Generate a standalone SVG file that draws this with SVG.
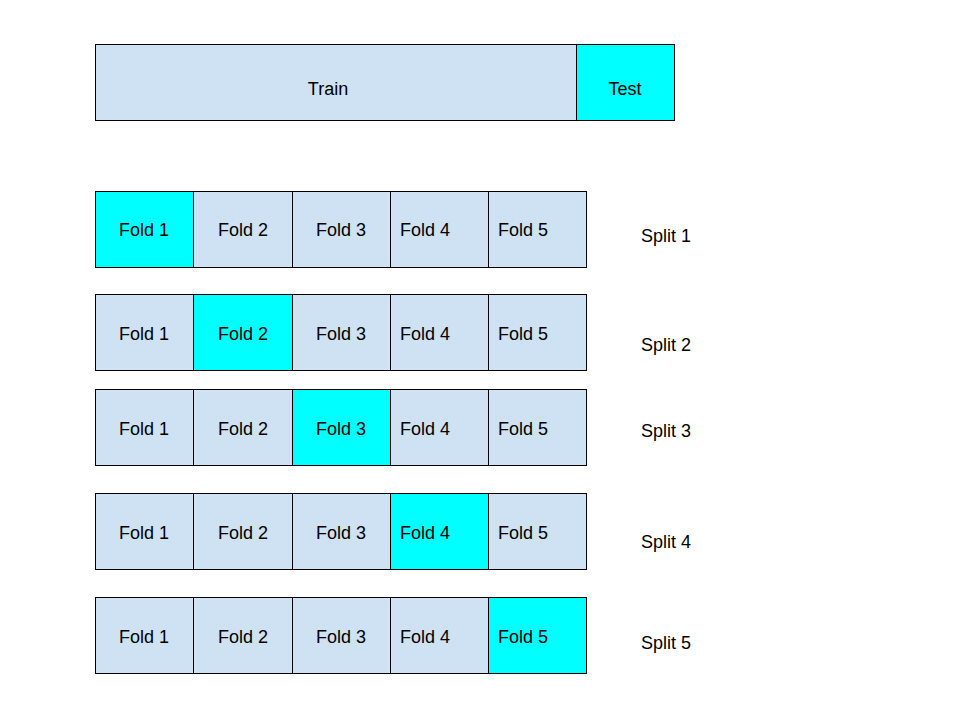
<svg xmlns="http://www.w3.org/2000/svg" width="960" height="720" viewBox="0 0 960 720">
<style>
.tr,.te{stroke:#000;stroke-width:1}
.tr{fill:#cfe2f3}
.te{fill:#00ffff}
text{font-family:"Liberation Sans",Arial,sans-serif;font-size:18px;fill:#000;dominant-baseline:central}
.c{text-anchor:middle}
</style>
<rect x="0" y="0" width="960" height="720" style="fill:#fff;stroke:none"/>
<g id="top">
<g id="train"><rect class="tr" x="95.5" y="44.5" width="481" height="76"/><text class="c" x="328" y="89">Train</text></g>
<g id="test"><rect class="te" x="576.5" y="44.5" width="98" height="76"/><text class="c" x="625" y="89">Test</text></g>
</g>
<g id="split1">
<rect class="te" x="95.5" y="191.5" width="98" height="76"/><text class="c" x="144" y="230">Fold 1</text>
<rect class="tr" x="193.5" y="191.5" width="99" height="76"/><text class="c" x="243" y="230">Fold 2</text>
<rect class="tr" x="292.5" y="191.5" width="98" height="76"/><text class="c" x="341" y="230">Fold 3</text>
<rect class="tr" x="390.5" y="191.5" width="98" height="76"/><text x="400" y="230">Fold 4</text>
<rect class="tr" x="488.5" y="191.5" width="98" height="76"/><text x="498" y="230">Fold 5</text>
<text x="641" y="236">Split 1</text>
</g>
<g id="split2">
<rect class="tr" x="95.5" y="294.5" width="98" height="76"/><text class="c" x="144" y="334">Fold 1</text>
<rect class="te" x="193.5" y="294.5" width="99" height="76"/><text class="c" x="243" y="334">Fold 2</text>
<rect class="tr" x="292.5" y="294.5" width="98" height="76"/><text class="c" x="341" y="334">Fold 3</text>
<rect class="tr" x="390.5" y="294.5" width="98" height="76"/><text x="400" y="334">Fold 4</text>
<rect class="tr" x="488.5" y="294.5" width="98" height="76"/><text x="498" y="334">Fold 5</text>
<text x="641" y="345">Split 2</text>
</g>
<g id="split3">
<rect class="tr" x="95.5" y="389.5" width="98" height="76"/><text class="c" x="144" y="429">Fold 1</text>
<rect class="tr" x="193.5" y="389.5" width="99" height="76"/><text class="c" x="243" y="429">Fold 2</text>
<rect class="te" x="292.5" y="389.5" width="98" height="76"/><text class="c" x="341" y="429">Fold 3</text>
<rect class="tr" x="390.5" y="389.5" width="98" height="76"/><text x="400" y="429">Fold 4</text>
<rect class="tr" x="488.5" y="389.5" width="98" height="76"/><text x="498" y="429">Fold 5</text>
<text x="641" y="431">Split 3</text>
</g>
<g id="split4">
<rect class="tr" x="95.5" y="493.5" width="98" height="76"/><text class="c" x="144" y="533">Fold 1</text>
<rect class="tr" x="193.5" y="493.5" width="99" height="76"/><text class="c" x="243" y="533">Fold 2</text>
<rect class="tr" x="292.5" y="493.5" width="98" height="76"/><text class="c" x="341" y="533">Fold 3</text>
<rect class="te" x="390.5" y="493.5" width="98" height="76"/><text x="400" y="533">Fold 4</text>
<rect class="tr" x="488.5" y="493.5" width="98" height="76"/><text x="498" y="533">Fold 5</text>
<text x="641" y="542">Split 4</text>
</g>
<g id="split5">
<rect class="tr" x="95.5" y="597.5" width="98" height="76"/><text class="c" x="144" y="637">Fold 1</text>
<rect class="tr" x="193.5" y="597.5" width="99" height="76"/><text class="c" x="243" y="637">Fold 2</text>
<rect class="tr" x="292.5" y="597.5" width="98" height="76"/><text class="c" x="341" y="637">Fold 3</text>
<rect class="tr" x="390.5" y="597.5" width="98" height="76"/><text x="400" y="637">Fold 4</text>
<rect class="te" x="488.5" y="597.5" width="98" height="76"/><text x="498" y="637">Fold 5</text>
<text x="641" y="643">Split 5</text>
</g>
<g id="connectors"/>
</svg>
